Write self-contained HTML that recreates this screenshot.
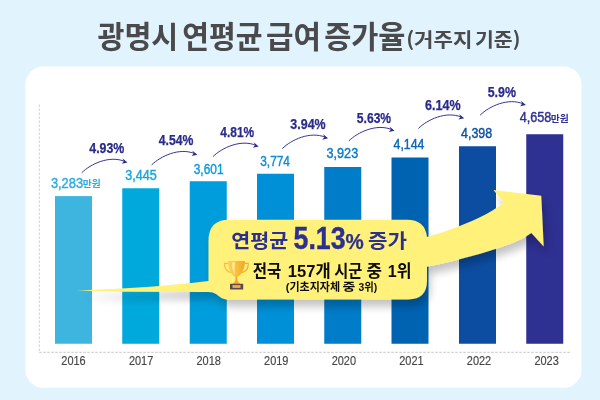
<!DOCTYPE html>
<html lang="ko">
<head>
<meta charset="utf-8">
<title>광명시 연평균 급여 증가율</title>
<style>
html,body{margin:0;padding:0;background:#e1f3fd;}
body{width:600px;height:400px;overflow:hidden;}
svg{display:block;}
text{font-family:"Liberation Sans","Noto Sans CJK KR",sans-serif;}
.ko{font-family:"Noto Sans CJK KR","Liberation Sans",sans-serif;}
</style>
</head>
<body>
<svg width="600" height="400" viewBox="0 0 600 400">
<defs>
<filter id="sh" x="-10%" y="-20%" width="125%" height="150%">
<feGaussianBlur in="SourceAlpha" stdDeviation="4.500"/>
<feOffset dx="3" dy="7"/>
<feComponentTransfer><feFuncA type="linear" slope="0.240"/></feComponentTransfer>
<feMerge><feMergeNode/><feMergeNode in="SourceGraphic"/></feMerge>
</filter>
<linearGradient id="gold" x1="0" y1="0" x2="1" y2="0">
<stop offset="0" stop-color="#fcd25c"/><stop offset="0.5" stop-color="#f9c03c"/><stop offset="1" stop-color="#f0a728"/>
</linearGradient>
</defs>
<rect x="0" y="0" width="600" height="400" fill="#e1f3fd"/>
<rect x="25.500" y="66.600" width="556" height="321.150" rx="17.500" ry="17.500" fill="#ffffff"/>
<text class="ko"><tspan x="97.55" y="47.85" font-size="30.3" font-weight="700" fill="#4a494b" textLength="80.73" lengthAdjust="spacingAndGlyphs">광명시</tspan> <tspan x="182.3" y="47.85" font-size="30.3" font-weight="700" fill="#4a494b" textLength="80.27" lengthAdjust="spacingAndGlyphs">연평균</tspan> <tspan x="266.05" y="47.85" font-size="30.3" font-weight="700" fill="#4a494b" textLength="54.94" lengthAdjust="spacingAndGlyphs">급여</tspan> <tspan x="324.15" y="47.85" font-size="30.3" font-weight="700" fill="#4a494b" textLength="81.3" lengthAdjust="spacingAndGlyphs">증가율</tspan></text>
<text class="ko"><tspan x="406.15" y="47.2" font-size="19.5" font-weight="700" fill="#4a494b" textLength="66.28" lengthAdjust="spacingAndGlyphs">(거주지</tspan> <tspan x="475.0" y="47.2" font-size="19.5" font-weight="700" fill="#4a494b" textLength="45.4" lengthAdjust="spacingAndGlyphs">기준)</tspan></text>
<line x1="39.300" y1="104.500" x2="39.300" y2="352.300" stroke="#c2c2c2" stroke-width="0.800" stroke-dasharray="2.400 1.600"/>
<line x1="39.300" y1="352.300" x2="571.500" y2="352.300" stroke="#a9a9a9" stroke-width="0.700" stroke-dasharray="2.400 1.600"/>
<rect x="55.0" y="196.1" width="37" height="147.65" fill="#3eb5df"/>
<rect x="122.25" y="188.25" width="37" height="155.5" fill="#00a9dc"/>
<rect x="189.75" y="181.25" width="37" height="162.5" fill="#009ddc"/>
<rect x="257.0" y="173.75" width="37" height="170.0" fill="#0090d8"/>
<rect x="324.25" y="167.0" width="37" height="176.75" fill="#007cc8"/>
<rect x="391.5" y="157.5" width="37" height="186.25" fill="#0063b2"/>
<rect x="459.0" y="146.25" width="37" height="197.5" fill="#0c4da2"/>
<rect x="526.25" y="134.25" width="37" height="209.5" fill="#2e3092"/>
<text x="61.3" y="365.4" font-size="11.9" font-weight="400" fill="#464646" textLength="24.38" lengthAdjust="spacingAndGlyphs" stroke="#464646" stroke-width="0.15">2016</text>
<text x="128.89" y="365.4" font-size="11.9" font-weight="400" fill="#464646" textLength="24.36" lengthAdjust="spacingAndGlyphs" stroke="#464646" stroke-width="0.15">2017</text>
<text x="196.48" y="365.4" font-size="11.9" font-weight="400" fill="#464646" textLength="24.38" lengthAdjust="spacingAndGlyphs" stroke="#464646" stroke-width="0.15">2018</text>
<text x="264.07" y="365.4" font-size="11.9" font-weight="400" fill="#464646" textLength="24.36" lengthAdjust="spacingAndGlyphs" stroke="#464646" stroke-width="0.15">2019</text>
<text x="331.66" y="365.4" font-size="11.9" font-weight="400" fill="#464646" textLength="24.38" lengthAdjust="spacingAndGlyphs" stroke="#464646" stroke-width="0.15">2020</text>
<text x="399.25" y="365.4" font-size="11.9" font-weight="400" fill="#464646" textLength="24.36" lengthAdjust="spacingAndGlyphs" stroke="#464646" stroke-width="0.15">2021</text>
<text x="466.84" y="365.4" font-size="11.9" font-weight="400" fill="#464646" textLength="24.36" lengthAdjust="spacingAndGlyphs" stroke="#464646" stroke-width="0.15">2022</text>
<text x="534.43" y="365.4" font-size="11.9" font-weight="400" fill="#464646" textLength="24.38" lengthAdjust="spacingAndGlyphs" stroke="#464646" stroke-width="0.15">2023</text>
<text><tspan x="50.9" y="187.5" font-size="13.8" font-weight="400" fill="#2aace2" textLength="32.21" lengthAdjust="spacingAndGlyphs" stroke="#2aace2" stroke-width="0.4">3,283</tspan><tspan class="ko" x="82.65" y="187.3" font-size="9.5" font-weight="700" fill="#2aace2" textLength="18.03" lengthAdjust="spacingAndGlyphs">만원</tspan></text>
<text x="125.25" y="180.4" font-size="13.8" font-weight="400" fill="#12a8de" textLength="31.44" lengthAdjust="spacingAndGlyphs" stroke="#12a8de" stroke-width="0.4">3,445</text>
<text x="193.7" y="173.5" font-size="13.8" font-weight="400" fill="#0b9bdc" textLength="29.86" lengthAdjust="spacingAndGlyphs" stroke="#0b9bdc" stroke-width="0.4">3,601</text>
<text x="260.25" y="165.5" font-size="13.8" font-weight="400" fill="#0a8cd6" textLength="29.67" lengthAdjust="spacingAndGlyphs" stroke="#0a8cd6" stroke-width="0.4">3,774</text>
<text x="326.5" y="158" font-size="13.8" font-weight="400" fill="#0a7ac8" textLength="31.7" lengthAdjust="spacingAndGlyphs" stroke="#0a7ac8" stroke-width="0.4">3,923</text>
<text x="393.5" y="148.75" font-size="13.8" font-weight="400" fill="#0a66b5" textLength="30.98" lengthAdjust="spacingAndGlyphs" stroke="#0a66b5" stroke-width="0.4">4,144</text>
<text x="461.0" y="137.6" font-size="13.8" font-weight="400" fill="#0f50a3" textLength="31.21" lengthAdjust="spacingAndGlyphs" stroke="#0f50a3" stroke-width="0.4">4,398</text>
<text><tspan x="519.65" y="122.1" font-size="13.8" font-weight="400" fill="#2e3092" textLength="31.72" lengthAdjust="spacingAndGlyphs" stroke="#2e3092" stroke-width="0.4">4,658</tspan><tspan class="ko" x="550.85" y="121.9" font-size="9.5" font-weight="700" fill="#2e3092" textLength="18.03" lengthAdjust="spacingAndGlyphs">만원</tspan></text>
<text x="89.25" y="153.3" font-size="14.1" font-weight="700" fill="#2a2a8a" textLength="35.13" lengthAdjust="spacingAndGlyphs" stroke="#2a2a8a" stroke-width="0.25">4.93%</text>
<text x="158.75" y="145.4" font-size="14.1" font-weight="700" fill="#2a2a8a" textLength="34.62" lengthAdjust="spacingAndGlyphs" stroke="#2a2a8a" stroke-width="0.25">4.54%</text>
<text x="220.35" y="136.7" font-size="14.1" font-weight="700" fill="#2a2a8a" textLength="33.86" lengthAdjust="spacingAndGlyphs" stroke="#2a2a8a" stroke-width="0.25">4.81%</text>
<text x="290.35" y="129.2" font-size="14.1" font-weight="700" fill="#2a2a8a" textLength="35.36" lengthAdjust="spacingAndGlyphs" stroke="#2a2a8a" stroke-width="0.25">3.94%</text>
<text x="356.8" y="122.6" font-size="14.1" font-weight="700" fill="#2a2a8a" textLength="34.33" lengthAdjust="spacingAndGlyphs" stroke="#2a2a8a" stroke-width="0.25">5.63%</text>
<text x="425.1" y="110.0" font-size="14.1" font-weight="700" fill="#2a2a8a" textLength="35.61" lengthAdjust="spacingAndGlyphs" stroke="#2a2a8a" stroke-width="0.25">6.14%</text>
<text x="487.7" y="97.2" font-size="14.1" font-weight="700" fill="#2a2a8a" textLength="28.27" lengthAdjust="spacingAndGlyphs" stroke="#2a2a8a" stroke-width="0.25">5.9%</text>
<g transform="translate(127.5,162.5)"><path d="M-45.500,10 C-37,1.500 -18,-7.500 -3,-1.200" fill="none" stroke="#2a2a8a" stroke-width="0.95" stroke-linecap="round"/><path d="M0,0 L-5.200,-4.300 L-3.600,-1.300 L-5.800,1.300 Z" fill="#2a2a8a"/></g>
<g transform="translate(197.4,154.7)"><path d="M-45.500,10 C-37,1.500 -18,-7.500 -3,-1.200" fill="none" stroke="#2a2a8a" stroke-width="0.95" stroke-linecap="round"/><path d="M0,0 L-5.200,-4.300 L-3.600,-1.300 L-5.800,1.300 Z" fill="#2a2a8a"/></g>
<g transform="translate(258.7,146.4)"><path d="M-45.500,10 C-37,1.500 -18,-7.500 -3,-1.200" fill="none" stroke="#2a2a8a" stroke-width="0.95" stroke-linecap="round"/><path d="M0,0 L-5.200,-4.300 L-3.600,-1.300 L-5.800,1.300 Z" fill="#2a2a8a"/></g>
<g transform="translate(328.1,138.35)"><path d="M-45.500,10 C-37,1.500 -18,-7.500 -3,-1.200" fill="none" stroke="#2a2a8a" stroke-width="0.95" stroke-linecap="round"/><path d="M0,0 L-5.200,-4.300 L-3.600,-1.300 L-5.800,1.300 Z" fill="#2a2a8a"/></g>
<g transform="translate(394.6,130.7)"><path d="M-45.500,10 C-37,1.500 -18,-7.500 -3,-1.200" fill="none" stroke="#2a2a8a" stroke-width="0.95" stroke-linecap="round"/><path d="M0,0 L-5.200,-4.300 L-3.600,-1.300 L-5.800,1.300 Z" fill="#2a2a8a"/></g>
<g transform="translate(464.2,118.2)"><path d="M-45.500,10 C-37,1.500 -18,-7.500 -3,-1.200" fill="none" stroke="#2a2a8a" stroke-width="0.95" stroke-linecap="round"/><path d="M0,0 L-5.200,-4.300 L-3.600,-1.300 L-5.800,1.300 Z" fill="#2a2a8a"/></g>
<g transform="translate(525.9,104.9)"><path d="M-45.500,10 C-37,1.500 -18,-7.500 -3,-1.200" fill="none" stroke="#2a2a8a" stroke-width="0.95" stroke-linecap="round"/><path d="M0,0 L-5.200,-4.300 L-3.600,-1.300 L-5.800,1.300 Z" fill="#2a2a8a"/></g>
<g filter="url(#sh)">
<path d="M229,219.700 H407 Q425,219.700 427,237 C440,233.500 460,226.500 480,217.200 Q495,210 503.600,202.500 L493.500,190.100 L541.300,195.800 L543.700,246.400 L531.400,232.900 Q523,239 513.800,242.600 C490,251.800 455,261.300 427,266.800 V280.500 Q427,299.400 408,299.400 H227 C219,299.400 218,292 209,292 L120,291.800 L76.800,290.500 Q150,288.200 208.500,281 V240.500 Q208.500,219.700 229,219.700 Z" fill="#fff179"/>
</g>
<text><tspan class="ko" x="231.3" y="247.7" font-size="19.8" font-weight="700" fill="#2c3091" textLength="56.94" lengthAdjust="spacingAndGlyphs">연평균</tspan> <tspan x="293.55" y="248.8" font-size="30.6" font-weight="700" fill="#2c3091" textLength="52.04" lengthAdjust="spacingAndGlyphs" stroke="#2c3091" stroke-width="0.4">5.13</tspan><tspan x="345.4" y="248.8" font-size="22" font-weight="700" fill="#2c3091" textLength="18.24" lengthAdjust="spacingAndGlyphs" stroke="#2c3091" stroke-width="0.25">%</tspan> <tspan class="ko" x="367.95" y="247.9" font-size="19.8" font-weight="700" fill="#2c3091" textLength="38.99" lengthAdjust="spacingAndGlyphs">증가</tspan></text>
<text><tspan x="252.75" y="277.1" font-size="17.4" font-weight="700" fill="#0d0d0d" textLength="28.59" lengthAdjust="spacingAndGlyphs">전국</tspan> <tspan x="287.8" y="277.1" font-size="17.4" font-weight="700" fill="#0d0d0d" textLength="42.9" lengthAdjust="spacingAndGlyphs">157개</tspan> <tspan x="334.25" y="277.1" font-size="17.4" font-weight="700" fill="#0d0d0d" textLength="28.1" lengthAdjust="spacingAndGlyphs">시군</tspan> <tspan x="366.55" y="277.1" font-size="17.4" font-weight="700" fill="#0d0d0d" textLength="15.45" lengthAdjust="spacingAndGlyphs">중</tspan> <tspan x="387.75" y="277.1" font-size="17.4" font-weight="700" fill="#0d0d0d" textLength="23.72" lengthAdjust="spacingAndGlyphs">1위</tspan></text>
<text><tspan x="285.75" y="291.3" font-size="11.8" font-weight="700" fill="#0d0d0d" textLength="54.36" lengthAdjust="spacingAndGlyphs">(기초지자체</tspan> <tspan x="342.5" y="291.3" font-size="11.8" font-weight="700" fill="#0d0d0d" textLength="12.82" lengthAdjust="spacingAndGlyphs">중</tspan> <tspan x="358.5" y="291.3" font-size="11.8" font-weight="700" fill="#0d0d0d" textLength="18.74" lengthAdjust="spacingAndGlyphs">3위)</tspan></text>
<g id="trophy">
<path d="M228.300,263.300 H224.500 C224.200,268 227,271.500 231,272.800" fill="none" stroke="#f8bc40" stroke-width="1.150"/>
<path d="M244.500,263.300 H248.300 C248.600,268 245.800,271.500 241.800,272.800" fill="none" stroke="#f3ac2e" stroke-width="1.150"/>
<path d="M227.800,261 H245 C245,268.500 241.500,275.500 236.400,277.500 C231.300,275.500 227.800,268.500 227.800,261 Z" fill="url(#gold)"/>
<path d="M232.200,262.300 C231.800,268 233,272.300 235.200,275.300 C234.300,271 234.300,266 235,262.300 Z" fill="#fde9a2"/>
<path d="M235.500,277 H237.300 L237.500,280.300 Q238,282.600 240.400,283.900 H232.400 Q234.800,282.600 235.300,280.300 Z" fill="#f2ab2c"/>
<rect x="230" y="283.800" width="13.200" height="5.700" fill="#5b4852"/>
<rect x="232.500" y="285.100" width="8" height="2.800" fill="#f2b13a"/>
</g>
</svg>
</body>
</html>
